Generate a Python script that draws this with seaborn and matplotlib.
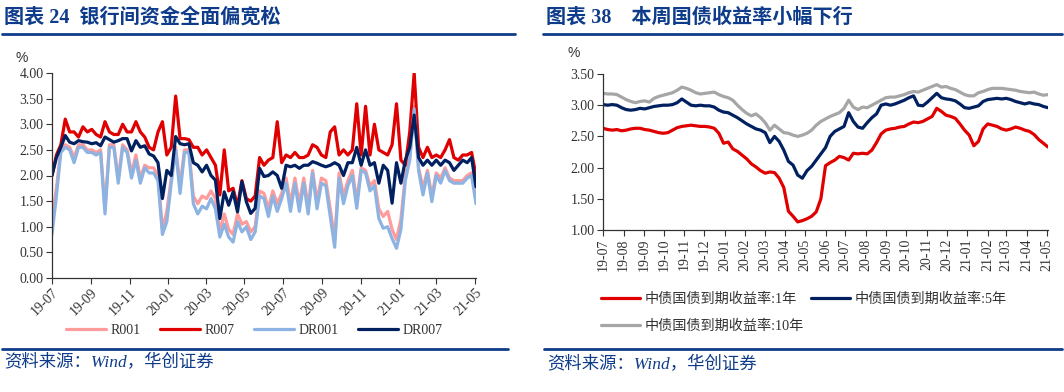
import pandas as pd
import seaborn as sns
import matplotlib.pyplot as plt
import matplotlib.dates as mdates
from matplotlib.lines import Line2D
from matplotlib.ticker import FormatStrFormatter, MultipleLocator

# weekly observations, 2019-07-01 .. 2021-05-03
dates = pd.date_range('2019-07-01', periods=97, freq='7D')

# left panel: interbank rates (%)
r001 = [1.15, 1.75, 2.50, 2.60, 2.55, 2.35, 2.60, 2.60, 2.50, 2.50,
        2.45, 2.50, 1.35, 2.60, 2.60, 1.95, 2.60, 2.50, 2.05, 2.40,
        1.95, 2.20, 2.15, 2.15, 2.00, 0.95, 1.30, 1.95, 2.55, 1.80,
        2.50, 2.50, 1.60, 1.45, 1.60, 1.55, 1.70, 1.55, 0.90, 1.25,
        0.95, 0.85, 1.25, 1.05, 1.10, 0.90, 1.00, 1.70, 1.65, 1.35,
        1.70, 1.45, 1.65, 1.95, 1.45, 1.95, 1.45, 1.95, 1.40, 2.10,
        1.50, 1.95, 1.90, 1.35, 0.75, 2.05, 1.60, 1.90, 2.10, 1.50,
        2.15, 2.10, 1.80, 1.90, 1.35, 1.20, 1.30, 0.95, 0.75, 1.15,
        2.00, 2.35, 3.35, 2.15, 1.75, 2.10, 1.60, 2.05, 1.95, 2.15,
        1.95, 1.90, 1.90, 1.90, 2.00, 2.05, 1.55]
r007 = [2.00, 2.40, 2.60, 3.10, 2.85, 2.85, 2.75, 2.95, 2.85, 2.90,
        2.80, 2.75, 3.05, 2.85, 2.80, 2.80, 3.00, 2.85, 2.85, 3.05,
        2.85, 2.75, 2.55, 2.50, 2.85, 3.05, 2.40, 2.55, 3.55, 2.72,
        2.72, 2.70, 2.55, 2.55, 2.40, 2.50, 2.35, 2.20, 1.62, 2.50,
        1.70, 1.75, 1.40, 1.90, 1.55, 1.50, 1.60, 2.35, 2.20, 2.30,
        2.35, 3.05, 2.25, 2.40, 2.35, 2.45, 2.35, 2.35, 2.40, 2.60,
        2.55, 2.40, 2.35, 2.85, 2.95, 2.40, 2.50, 2.40, 2.50, 3.40,
        2.40, 3.35, 2.40, 3.00, 2.50, 2.45, 2.40, 2.60, 3.40, 2.30,
        2.20, 2.85, 4.00, 2.55, 2.35, 2.55, 2.35, 2.40, 2.35, 2.50,
        2.70, 2.35, 2.30, 2.40, 2.40, 2.45, 2.00]
dr001 = [0.85, 1.60, 2.45, 2.55, 2.50, 2.25, 2.55, 2.55, 2.45, 2.45,
         2.40, 2.45, 1.25, 2.55, 2.55, 1.85, 2.55, 2.45, 1.95, 2.30,
         1.85, 2.15, 2.05, 2.05, 1.90, 0.85, 1.10, 1.85, 2.50, 1.65,
         2.45, 2.45, 1.45, 1.25, 1.40, 1.35, 1.55, 1.35, 0.80, 1.05,
         0.80, 0.70, 1.10, 0.90, 1.00, 0.75, 0.90, 1.60, 1.55, 1.20,
         1.60, 1.30, 1.55, 1.85, 1.30, 1.85, 1.30, 1.85, 1.25, 2.05,
         1.35, 1.85, 1.80, 1.20, 0.60, 1.95, 1.45, 1.80, 2.00, 1.36,
         2.10, 2.05, 1.70, 1.80, 1.16, 0.97, 1.00, 0.77, 0.58, 0.95,
         1.90, 2.30, 3.30, 2.10, 1.62, 2.05, 1.49, 2.00, 1.85, 2.10,
         1.90, 1.85, 1.85, 1.85, 1.95, 2.00, 1.45]
dr007 = [2.00, 2.35, 2.55, 2.78, 2.65, 2.62, 2.68, 2.66, 2.65, 2.62,
         2.64, 2.58, 2.75, 2.70, 2.65, 2.68, 2.72, 2.72, 2.48, 2.68,
         2.55, 2.58, 2.42, 2.38, 2.25, 1.55, 2.10, 2.00, 2.76, 2.62,
         2.60, 2.62, 2.25, 2.20, 2.07, 2.20, 2.00, 1.91, 1.16, 1.68,
         1.42, 1.68, 1.29, 1.88, 1.49, 1.26, 1.36, 2.14, 1.98, 2.00,
         2.07, 2.00, 1.75, 2.20, 2.17, 2.20, 2.14, 2.20, 2.20, 2.27,
         2.24, 2.20, 2.17, 2.20, 2.25, 2.20, 2.00, 2.25, 2.25, 2.55,
         2.20, 2.50, 2.20, 2.25, 1.85, 2.20, 2.10, 1.46, 2.25, 1.85,
         2.30, 2.55, 3.18, 2.35, 2.20, 2.30, 2.20, 2.30, 2.20, 2.30,
         2.25, 2.10, 2.20, 2.30, 2.25, 2.35, 1.78]

# right panel: treasury yields (%)
y1 = [2.63, 2.61, 2.60, 2.61, 2.59, 2.60, 2.62, 2.63, 2.63, 2.61,
      2.60, 2.58, 2.56, 2.55, 2.56, 2.60, 2.64, 2.66, 2.67, 2.68,
      2.67, 2.66, 2.66, 2.65, 2.63, 2.55, 2.39, 2.41, 2.30, 2.26,
      2.20, 2.14, 2.06, 2.01, 1.95, 1.91, 1.93, 1.92, 1.83, 1.68,
      1.30, 1.22, 1.13, 1.15, 1.18, 1.22, 1.29, 1.50, 2.03, 2.08,
      2.12, 2.18, 2.16, 2.12, 2.23, 2.22, 2.23, 2.22, 2.28, 2.40,
      2.54, 2.60, 2.62, 2.63, 2.65, 2.66, 2.70, 2.73, 2.72, 2.74,
      2.78, 2.82, 2.95, 2.90, 2.84, 2.82, 2.79, 2.70, 2.60, 2.52,
      2.35, 2.42, 2.62, 2.70, 2.68, 2.66, 2.62, 2.60, 2.62, 2.65,
      2.63, 2.60, 2.58, 2.53, 2.45, 2.39, 2.33]
y5 = [3.01, 3.00, 3.01, 3.00, 2.96, 2.93, 2.92, 2.93, 2.95, 2.94,
      2.96, 2.98, 2.99, 3.00, 3.00, 3.01, 3.04, 3.10, 3.05, 3.00,
      2.99, 3.00, 2.99, 2.99, 2.97, 2.92, 2.89, 2.88, 2.84, 2.80,
      2.75, 2.70, 2.66, 2.62, 2.60, 2.56, 2.40, 2.50, 2.42, 2.28,
      2.10, 2.04, 1.88, 1.83, 1.95, 2.02, 2.12, 2.22, 2.32, 2.50,
      2.58, 2.62, 2.66, 2.88, 2.74, 2.65, 2.63, 2.72, 2.80, 2.86,
      3.00, 3.02, 3.00, 3.02, 3.05, 3.08, 3.12, 3.15, 3.00, 2.99,
      3.05, 3.12, 3.19, 3.12, 3.10, 3.09, 3.07, 3.02, 2.96, 2.95,
      2.97, 2.99, 3.06, 3.09, 3.10, 3.11, 3.10, 3.11, 3.09, 3.06,
      3.04, 3.02, 3.04, 3.02, 3.01, 2.98, 2.96]
y10 = [3.19, 3.18, 3.18, 3.17, 3.13, 3.09, 3.06, 3.04, 3.06, 3.07,
       3.05, 3.11, 3.14, 3.16, 3.18, 3.20, 3.24, 3.29, 3.27, 3.24,
       3.20, 3.18, 3.19, 3.20, 3.21, 3.17, 3.14, 3.12, 3.08, 3.00,
       2.93, 2.87, 2.83, 2.86, 2.80, 2.72, 2.60, 2.68, 2.62, 2.56,
       2.55, 2.52, 2.50, 2.52, 2.55, 2.60, 2.68, 2.74, 2.78, 2.82,
       2.85, 2.88, 2.95, 3.08, 2.97, 2.93, 2.97, 2.96, 3.00, 3.04,
       3.08, 3.12, 3.13, 3.13, 3.15, 3.17, 3.20, 3.22, 3.21, 3.24,
       3.27, 3.30, 3.33, 3.29, 3.30, 3.27, 3.25, 3.21, 3.17, 3.15,
       3.15, 3.20, 3.22, 3.25, 3.27, 3.27, 3.27, 3.26, 3.25, 3.24,
       3.22, 3.21, 3.20, 3.21, 3.18, 3.16, 3.17]

left_names = ['R001', 'R007', 'DR001', 'DR007']
left_colors = ['#FF9B9B', '#E00000', '#8DB3E2', '#002060']
right_names = ['中债国债到期收益率:1年', '中债国债到期收益率:5年', '中债国债到期收益率:10年']
right_colors = ['#E00000', '#002060', '#A6A6A6']

df_l = pd.DataFrame({'date': dates, 'R001': r001, 'R007': r007,
                     'DR001': dr001, 'DR007': dr007})
df_r = pd.DataFrame({'date': dates, right_names[0]: y1,
                     right_names[1]: y5, right_names[2]: y10})

sns.set_theme(style='ticks')
plt.rcParams['font.family'] = ['Liberation Serif', 'Noto Sans CJK SC']
plt.rcParams['axes.unicode_minus'] = False

BLUE = '#0F3C8A'
TXT = '#333333'
W, H = 1064, 392

fig = plt.figure(figsize=(W / 100, H / 100), dpi=100)
ax1 = fig.add_axes([52 / W, 1 - 278 / H, (476 - 52) / W, (278 - 73) / H])
ax2 = fig.add_axes([603 / W, 1 - 230 / H, (1048 - 603) / W, (230 - 74) / H])

for name, c in zip(left_names, left_colors):
    sns.lineplot(x='date', y=name, data=df_l, color=c, lw=2.3, label=name, ax=ax1)
for name, c in zip(right_names, right_colors):
    sns.lineplot(x='date', y=name, data=df_r, color=c, lw=2.3, label=name, ax=ax2)


def style_axes(ax):
    sns.despine(ax=ax)
    for s in ['left', 'bottom']:
        ax.spines[s].set_color(TXT)
        ax.spines[s].set_linewidth(0.9)
    ax.tick_params(direction='out', length=4, width=0.8, color=TXT,
                   labelsize=10, labelcolor=TXT, pad=2)
    ax.set_xlabel('')
    ax.set_ylabel('')
    ax.yaxis.set_major_locator(MultipleLocator(0.5))
    ax.yaxis.set_major_formatter(FormatStrFormatter('%.2f'))
    ax.set_xlim(dates[0], dates[-1])


style_axes(ax1)
ax1.set_ylim(0, 4)
ax1.xaxis.set_major_locator(mdates.MonthLocator(bymonth=[1, 3, 5, 7, 9, 11]))
ax1.xaxis.set_major_formatter(mdates.DateFormatter('%y-%m'))
plt.setp(ax1.get_xticklabels(), rotation=45, ha='right', rotation_mode='anchor')

style_axes(ax2)
ax2.set_ylim(1, 3.5)
ax2.xaxis.set_major_locator(mdates.MonthLocator())
ax2.xaxis.set_major_formatter(mdates.DateFormatter('%y-%m'))
plt.setp(ax2.get_xticklabels(), rotation=90)

# legends
ax1.legend(loc='center', bbox_to_anchor=(254 / W, 1 - 330 / H),
           bbox_transform=fig.transFigure, ncol=4, frameon=False,
           handlelength=2.9, handletextpad=0.3, columnspacing=1.4,
           fontsize=10, labelcolor=TXT)
h, l = ax2.get_legend_handles_labels()
ax2.legend([h[0], h[2], h[1]], [l[0], l[2], l[1]], loc='upper left',
           bbox_to_anchor=(588 / W, 1 - 280 / H), bbox_transform=fig.transFigure,
           ncol=2, frameon=False, handlelength=2.75, handletextpad=0.35,
           columnspacing=0.5, labelspacing=0.95, fontsize=10.2, labelcolor=TXT)

# titles, rules, source notes
fig.text(4 / W, 1 - 18 / H, '图表 24  银行间资金全面偏宽松', color=BLUE,
         fontsize=14.5, fontweight='bold', va='center')
fig.text(546 / W, 1 - 18 / H, '图表 38    本周国债收益率小幅下行', color=BLUE,
         fontsize=14.5, fontweight='bold', va='center')
for x0, x1 in [(2, 515), (543, 1062)]:
    fig.add_artist(Line2D([x0 / W, x1 / W], [1 - 34 / H] * 2, color=BLUE, lw=2))
for x0, x1 in [(2, 508), (544, 1062)]:
    fig.add_artist(Line2D([x0 / W, x1 / W], [1 - 349 / H] * 2, color=BLUE, lw=2))
fig.text(4 / W, 1 - 363 / H, '资料来源：Wind，华创证券', color=BLUE,
         fontsize=12.5, style='italic', va='center')
fig.text(547 / W, 1 - 365 / H, '资料来源：Wind，华创证券', color=BLUE,
         fontsize=12.5, style='italic', va='center')

fig.text(22 / W, 1 - 58 / H, '%', fontsize=10, ha='center', va='center',
         color=TXT, family='Liberation Sans')
fig.text(574 / W, 1 - 53 / H, '%', fontsize=10, ha='center', va='center',
         color=TXT, family='Liberation Sans')

fig.savefig('out.png', dpi=100)
